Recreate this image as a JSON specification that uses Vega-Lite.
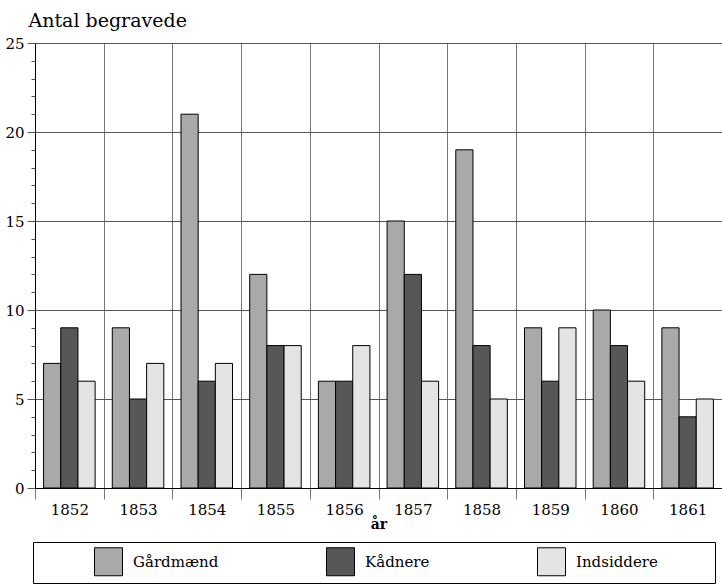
{
  "$schema": "https://vega.github.io/schema/vega-lite/v6.json",
  "width": 687,
  "height": 445,
  "autosize": "none",
  "padding": {"left": 35, "top": 43, "right": 0, "bottom": 96},
  "background": "white",
  "config": {"font": "DejaVu Serif", "view": {"stroke": null}},
  "data": {"values": [
    {"year": "1852", "group": "Gårdmænd", "value": 7},
    {"year": "1852", "group": "Kådnere", "value": 9},
    {"year": "1852", "group": "Indsiddere", "value": 6},
    {"year": "1853", "group": "Gårdmænd", "value": 9},
    {"year": "1853", "group": "Kådnere", "value": 5},
    {"year": "1853", "group": "Indsiddere", "value": 7},
    {"year": "1854", "group": "Gårdmænd", "value": 21},
    {"year": "1854", "group": "Kådnere", "value": 6},
    {"year": "1854", "group": "Indsiddere", "value": 7},
    {"year": "1855", "group": "Gårdmænd", "value": 12},
    {"year": "1855", "group": "Kådnere", "value": 8},
    {"year": "1855", "group": "Indsiddere", "value": 8},
    {"year": "1856", "group": "Gårdmænd", "value": 6},
    {"year": "1856", "group": "Kådnere", "value": 6},
    {"year": "1856", "group": "Indsiddere", "value": 8},
    {"year": "1857", "group": "Gårdmænd", "value": 15},
    {"year": "1857", "group": "Kådnere", "value": 12},
    {"year": "1857", "group": "Indsiddere", "value": 6},
    {"year": "1858", "group": "Gårdmænd", "value": 19},
    {"year": "1858", "group": "Kådnere", "value": 8},
    {"year": "1858", "group": "Indsiddere", "value": 5},
    {"year": "1859", "group": "Gårdmænd", "value": 9},
    {"year": "1859", "group": "Kådnere", "value": 6},
    {"year": "1859", "group": "Indsiddere", "value": 9},
    {"year": "1860", "group": "Gårdmænd", "value": 10},
    {"year": "1860", "group": "Kådnere", "value": 8},
    {"year": "1860", "group": "Indsiddere", "value": 6},
    {"year": "1861", "group": "Gårdmænd", "value": 9},
    {"year": "1861", "group": "Kådnere", "value": 4},
    {"year": "1861", "group": "Indsiddere", "value": 5}
  ]},
  "mark": {"type": "bar", "stroke": "black", "strokeWidth": 1},
  "encoding": {
    "x": {
      "field": "year", "type": "nominal",
      "scale": {"paddingInner": 0, "paddingOuter": 0},
      "axis": {
        "title": "år", "labelAngle": 0, "tickBand": "extent", "grid": true,
        "gridColor": "#777", "tickColor": "#777", "tickSize": 11,
        "domainColor": "black", "labelFontSize": 15, "labelPadding": 3,
        "labelColor": "black", "titleColor": "black", "titleFontSize": 14,
        "titleFontWeight": "bold", "titlePadding": 0
      }
    },
    "xOffset": {
      "field": "group",
      "sort": ["Gårdmænd", "Kådnere", "Indsiddere"],
      "scale": {"paddingInner": 0, "paddingOuter": 0.5}
    },
    "y": {
      "field": "value", "type": "quantitative",
      "scale": {"domain": [0, 25]},
      "axis": {
        "title": "Antal begravede", "titleAngle": 0, "titleAlign": "left",
        "titleBaseline": "alphabetic", "titleX": -7, "titleY": -17,
        "titleFontSize": 19, "titleFontWeight": "normal", "titleColor": "black",
        "values": [0,1,2,3,4,5,6,7,8,9,10,11,12,13,14,15,16,17,18,19,20,21,22,23,24,25],
        "labelExpr": "datum.value % 5 === 0 ? datum.label : ''",
        "labelOverlap": false, "labelFontSize": 15, "labelColor": "black", "labelPadding": 3,
        "tickSize": {"condition": {"test": "datum.value % 5 === 0", "value": 8}, "value": 4},
        "tickColor": "#555",
        "grid": true, "gridColor": "#555",
        "gridOpacity": {"condition": {"test": "datum.value % 5 === 0", "value": 1}, "value": 0},
        "domainColor": "black"
      }
    },
    "color": {
      "field": "group", "type": "nominal",
      "scale": {"domain": ["Gårdmænd", "Kådnere", "Indsiddere"], "range": ["#a9a9a9", "#575757", "#e4e4e4"]},
      "legend": {
        "orient": "none", "legendX": -2, "legendY": 499,
        "direction": "horizontal", "columns": 3,
        "title": "\u00a0", "titleOrient": "right", "titlePadding": 52, "titleFontSize": 12,
        "padding": 5, "fillColor": "white", "strokeColor": "black",
        "symbolType": "square", "symbolSize": 784, "symbolStrokeColor": "black",
        "symbolStrokeWidth": 1, "symbolOpacity": 1,
        "symbolOffset": 56,
        "labelFontSize": 15, "labelOffset": 10, "labelColor": "black",
        "columnPadding": 51
      }
    }
  }
}
